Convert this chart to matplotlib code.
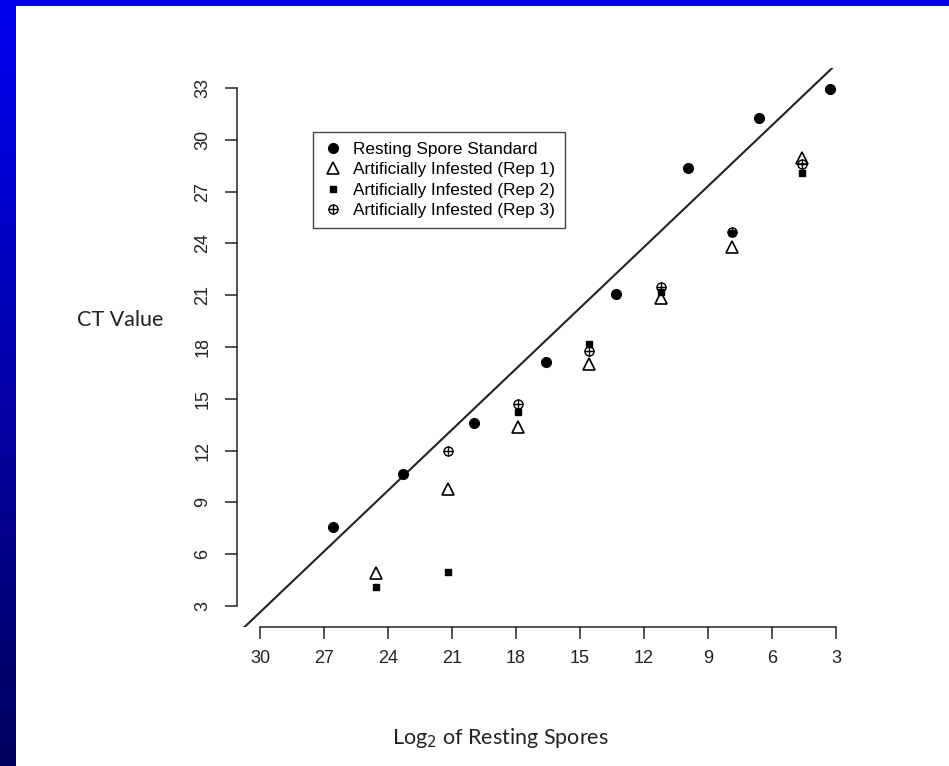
import numpy as np
import matplotlib
matplotlib.use("Agg")
import matplotlib.pyplot as plt
from matplotlib.colors import LinearSegmentedColormap

# ---- data ----
std_x = [26.6, 23.3, 19.95, 16.6, 13.3, 9.95, 6.6, 3.3]
std_y = [7.57, 10.64, 13.60, 17.13, 21.07, 28.36, 31.26, 32.94]

rep1_x = [24.56, 21.19, 17.9, 14.58, 11.2, 7.87, 4.59]
rep1_y = [4.91, 9.77, 13.36, 17.01, 20.83, 23.79, 28.94]

rep2_x = [24.56, 21.19, 17.9, 14.58, 11.2, 7.87, 4.59]
rep2_y = [4.10, 4.97, 14.23, 18.17, 21.18, 24.60, 28.07]

rep3_x = [21.19, 17.9, 14.58, 11.2, 7.87, 4.59]
rep3_y = [11.98, 14.70, 17.77, 21.47, 24.66, 28.59]

xticks = [30, 27, 24, 21, 18, 15, 12, 9, 6, 3]
yticks = [3, 6, 9, 12, 15, 18, 21, 24, 27, 30, 33]

labels = ["Resting Spore Standard", "Artificially Infested (Rep 1)",
          "Artificially Infested (Rep 2)", "Artificially Infested (Rep 3)"]

W, H = 949, 766
fig = plt.figure(figsize=(W / 100, H / 100), dpi=100)
fig.patch.set_facecolor("white")

# blue frame: left gradient band and top band
axl = fig.add_axes([0, 0, 16 / W, 1])
grad = np.linspace(0, 1, 256).reshape(-1, 1)
cm = LinearSegmentedColormap.from_list("bl", ["#0000F2", "#00005E"])
axl.imshow(grad, aspect="auto", cmap=cm, extent=[0, 1, 0, 1], origin="upper")
axl.axis("off")
axt = fig.add_axes([0, 1 - 6 / H, 1, 6 / H])
axt.set_facecolor("#0000EE")
axt.set_xticks([]); axt.set_yticks([])
for s in axt.spines.values():
    s.set_visible(False)

# main axes, pixel placement
L, R, T, B = 237, 859, 68, 627
ax = fig.add_axes([L / W, 1 - B / H, (R - L) / W, (B - T) / H])
ax.set_xlim(31.08, 1.92)
ax.set_ylim(1.78, 34.16)

ax.set_xticks(xticks)
ax.set_yticks(yticks)
for s in ["top", "right"]:
    ax.spines[s].set_visible(False)
ax.spines["left"].set_bounds(3, 33)
ax.spines["bottom"].set_bounds(30, 3)
for s in ["left", "bottom"]:
    ax.spines[s].set_linewidth(1.1)
    ax.spines[s].set_color("#222222")

tickfont = "Liberation Sans"
ax.tick_params(axis="both", length=8.5, width=1.1, color="#222222",
               labelsize=13, labelcolor="#222222")
ax.tick_params(axis="x", pad=8)
ax.tick_params(axis="y", pad=10)
for lab in ax.get_xticklabels() + ax.get_yticklabels():
    lab.set_family(tickfont)
for lab in ax.get_yticklabels():
    lab.set_rotation(90)
    lab.set_va("center")

# regression line from standard data
b, a = np.polyfit(std_x, std_y, 1)
ax.axline((0, a), slope=b, color="#222222", lw=1.5)

h0, = ax.plot(std_x, std_y, "o", ms=7, color="black", ls="none")
h1, = ax.plot(rep1_x, rep1_y, "^", ms=8, mfc="none", mec="black", mew=1.2, ls="none")
h2, = ax.plot(rep2_x, rep2_y, "s", ms=5, color="black", ls="none")
h3a, = ax.plot(rep3_x, rep3_y, "o", ms=6.5, mfc="none", mec="black", mew=1.0, ls="none")
h3b, = ax.plot(rep3_x, rep3_y, "+", ms=6.5, color="black", mew=1.0, ls="none")

leg = ax.legend([h0, h1, h2, (h3a, h3b)], labels,
                loc="upper left", bbox_to_anchor=(313 / W, 1 - 132 / H),
                bbox_transform=fig.transFigure, borderaxespad=0,
                frameon=True, fancybox=False, edgecolor="#444444",
                prop={"family": tickfont, "size": 12.4},
                handlelength=1.2, handletextpad=0.6, labelspacing=0.32,
                borderpad=0.55, framealpha=1)
leg.get_frame().set_linewidth(1.0)

fig.text(120 / W, 1 - 320 / H, "CT Value", ha="center", va="center",
         fontsize=15.5, family="Lato", color="#222222")
fig.text(500 / W, 1 - 738 / H, "Log$_2$ of Resting Spores", ha="center",
         va="center", fontsize=15.5, family="Lato", color="#222222")

fig.savefig("out.png", dpi=100, facecolor="white")
